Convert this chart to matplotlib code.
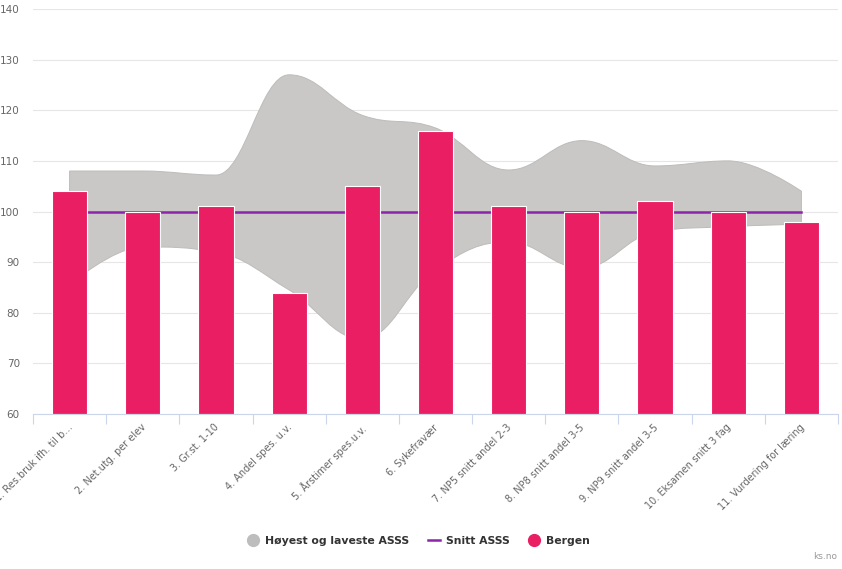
import numpy as np
import matplotlib.pyplot as plt
from matplotlib.path import Path
from matplotlib.patches import PathPatch
from matplotlib.lines import Line2D

categories = ["1. Res.bruk ifh. til b\u2026", "2. Net.utg. per elev", "3. Gr.st. 1-10",
              "4. Andel spes. u.v.", "5. \u00c5rstimer spes.u.v.", "6. Sykefrav\u00e6r",
              "7. NP5 snitt andel 2-3", "8. NP8 snitt andel 3-5", "9. NP9 snitt andel 3-5",
              "10. Eksamen snitt 3 fag", "11. Vurdering for l\u00e6ring"]
bergen = [104, 100, 101, 84, 105, 116, 101, 100, 102, 100, 98]
snitt = [100, 100, 100, 100, 100, 100, 100, 100, 100, 100, 100]
hoyest = [108, 108, 107.2, 127, 119, 116.5, 108.2, 114, 109, 110, 104]
laveste = [85.5, 93, 92, 84.5, 74.8, 88.5, 94, 88.8, 96, 97, 97.5]
yticks = [60, 70, 80, 90, 100, 110, 120, 130, 140]


def spline_segments(xs, ys, smoothing=1.5):
    # highcharts-like spline: bezier vertices and codes (no leading MOVETO)
    n = len(xs)
    lc = [(xs[i], ys[i]) for i in range(n)]
    rc = [(xs[i], ys[i]) for i in range(n)]
    d = smoothing + 1
    for i in range(1, n - 1):
        x, y = xs[i], ys[i]
        lx, ly = xs[i - 1], ys[i - 1]
        nx, ny = xs[i + 1], ys[i + 1]
        lcx = (smoothing * x + lx) / d
        lcy = (smoothing * y + ly) / d
        rcx = (smoothing * x + nx) / d
        rcy = (smoothing * y + ny) / d
        if rcx != lcx:
            corr = (rcy - lcy) * (rcx - x) / (rcx - lcx) + y - rcy
            lcy += corr
            rcy += corr
        if lcy > ly and lcy > y:
            lcy = max(ly, y)
            rcy = 2 * y - lcy
        elif lcy < ly and lcy < y:
            lcy = min(ly, y)
            rcy = 2 * y - lcy
        if rcy > ny and rcy > y:
            rcy = max(ny, y)
            lcy = 2 * y - rcy
        elif rcy < ny and rcy < y:
            rcy = min(ny, y)
            lcy = 2 * y - rcy
        lc[i] = (lcx, lcy)
        rc[i] = (rcx, rcy)
    verts, codes = [], []
    for i in range(1, n):
        verts += [rc[i - 1], lc[i], (xs[i], ys[i])]
        codes += [Path.CURVE4] * 3
    return verts, codes


fig = plt.figure(figsize=(8.42, 5.69), dpi=100)
ax = fig.add_axes([33 / 842, 155 / 569, 805 / 842, 405 / 569])

x = np.arange(len(categories))

# range band (upper edge left->right, lower edge back)
uv, uc = spline_segments(list(x), hoyest)
lv, lcodes = spline_segments(list(x[::-1]), laveste[::-1])
verts = [(x[0], hoyest[0])] + uv + [(x[-1], laveste[-1])] + lv + [(x[0], hoyest[0])]
codes = [Path.MOVETO] + uc + [Path.LINETO] + lcodes + [Path.CLOSEPOLY]
ax.add_patch(PathPatch(Path(verts, codes), facecolor="#c9c8c7", edgecolor="#bdbcbb",
                       lw=0.7, zorder=2))

ax.plot(x, snitt, color="#8E24AA", lw=1.8, zorder=3)
ax.bar(x, [b - 60 for b in bergen], bottom=60, width=0.48, color="#E91E63",
       edgecolor="white", linewidth=0.8, zorder=4)

ax.set_xlim(-0.5, len(categories) - 0.5)
ax.set_ylim(60, 140)
ax.set_yticks(yticks)
ax.tick_params(axis="y", length=0, pad=9.5, labelsize=7.5, labelcolor="#666666")
ax.grid(axis="y", color="#e6e6e6", lw=0.8, zorder=0)
ax.set_axisbelow(True)
for s in ["top", "right", "left"]:
    ax.spines[s].set_visible(False)
ax.spines["bottom"].set_color("#ccd6eb")
ax.spines["bottom"].set_zorder(5)

ax.set_xticks(np.arange(len(categories) + 1) - 0.5)
ax.set_xticklabels([])
ax.tick_params(axis="x", length=7, color="#ccd6eb", width=0.8)
for i, c in enumerate(categories):
    ax.annotate(c, xy=(i, 60), xytext=(-1.5, -6), textcoords="offset points",
                rotation=45, ha="right", va="top", rotation_mode="anchor",
                fontsize=7, color="#666666", annotation_clip=False)

handles = [
    Line2D([], [], marker="o", ls="none", color="#bdbdbd", markersize=8.5),
    Line2D([], [], color="#8E24AA", lw=1.8),
    Line2D([], [], marker="o", ls="none", color="#E91E63", markersize=8.5),
]
labels = ["H\u00f8yest og laveste ASSS", "Snitt ASSS", "Bergen"]
leg = fig.legend(handles, labels, loc="center", bbox_to_anchor=(0.497, 28 / 569), ncol=3,
                 frameon=False, handlelength=1.1, handletextpad=0.55, columnspacing=1.7,
                 prop={"weight": "bold", "size": 7.8})
for t in leg.get_texts():
    t.set_color("#333333")

fig.text(837 / 842, 8 / 569, "ks.no", ha="right", va="bottom", fontsize=6.5, color="#999999")

fig.savefig("out.png", dpi=100)
